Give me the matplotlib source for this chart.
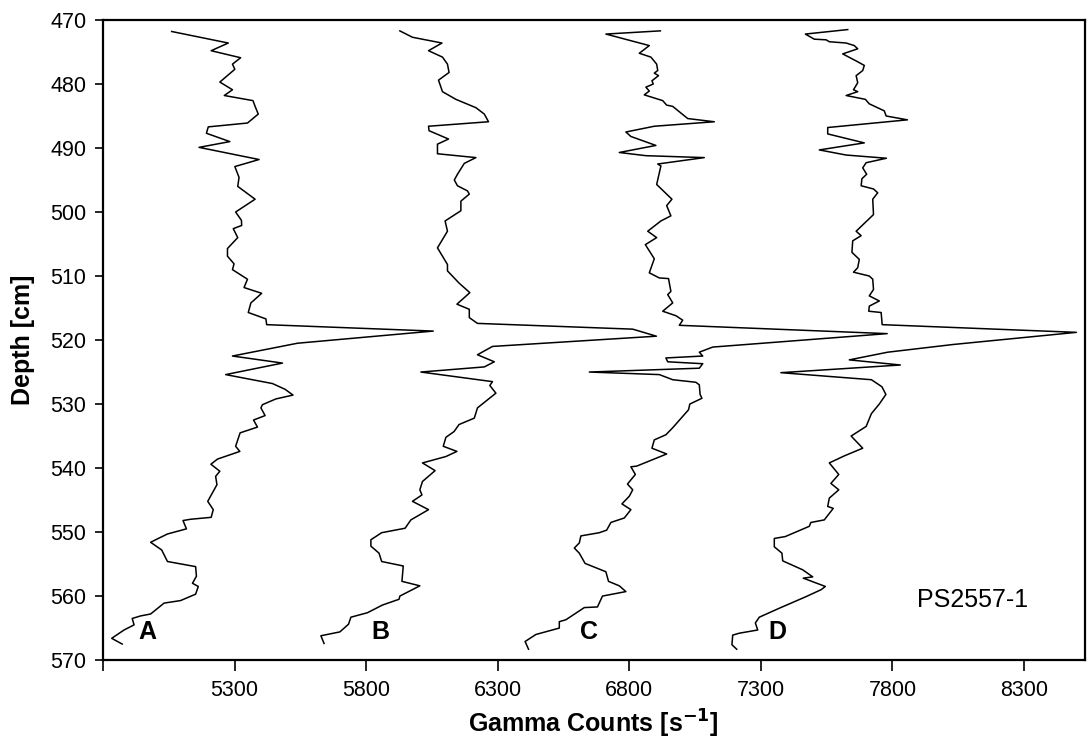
import matplotlib
matplotlib.use("Agg")
import matplotlib.pyplot as plt

plt.rcParams['font.family'] = ['Liberation Sans', 'DejaVu Sans']

# Gamma counts vs. depth for the four measurements A-D, core PS2557-1
depth_a = [471.8, 473.6, 474.8, 475.9, 476.9, 477.7, 479.7, 480.9, 481.8, 482.6, 483.5, 484.7, 486.1, 486.7,
           487.7, 489.0, 489.9, 491.8, 492.9, 494.6, 496.0, 498.0, 500.0, 501.3, 502.1, 502.6, 504.0, 505.7,
           506.9, 508.1, 509.0, 510.5, 511.8, 512.7, 514.2, 515.7, 516.7, 517.6, 518.6, 520.5, 522.5, 523.6,
           525.4, 526.8, 527.7, 528.6, 529.2, 530.1, 530.6, 531.8, 532.5, 533.6, 534.5, 536.6, 537.4, 538.6,
           539.4, 540.5, 541.3, 542.6, 545.2, 546.5, 547.7, 548.0, 548.2, 549.5, 550.3, 551.0, 551.6, 552.8,
           554.6, 555.4, 556.9, 558.0, 558.5, 559.7, 560.7, 561.1, 562.8, 563.1, 563.5, 564.5, 565.3, 566.6,
           567.5]
gamma_a = [5061, 5276, 5211, 5323, 5292, 5301, 5244, 5292, 5261, 5370, 5378, 5390, 5349, 5200,
           5193, 5282, 5165, 5393, 5301, 5317, 5312, 5378, 5304, 5326, 5327, 5295, 5312, 5273,
           5273, 5298, 5292, 5349, 5336, 5403, 5362, 5352, 5419, 5422, 6055, 5539, 5292, 5482,
           5266, 5444, 5492, 5522, 5457, 5406, 5400, 5416, 5372, 5387, 5321, 5304, 5320, 5235,
           5210, 5244, 5228, 5233, 5198, 5219, 5211, 5133, 5104, 5117, 5045, 5010, 4981, 5023,
           5045, 5152, 5155, 5140, 5162, 5152, 5095, 5032, 4981, 4943, 4911, 4918, 4880, 4833,
           4873]

depth_b = [471.7, 472.7, 473.6, 474.8, 475.8, 476.9, 478.2, 479.4, 481.2, 482.4, 483.7, 484.7, 485.9, 486.6,
           487.3, 488.6, 489.4, 490.9, 491.5, 492.4, 494.1, 495.0, 495.9, 496.7, 497.2, 498.3, 499.8, 501.4,
           503.0, 505.6, 508.2, 509.2, 511.1, 512.6, 514.4, 515.2, 516.5, 517.4, 518.3, 519.4, 521.0, 522.3,
           523.4, 524.2, 525.0, 526.5, 527.1, 528.3, 530.6, 532.2, 533.2, 534.3, 535.2, 536.6, 537.4, 538.2,
           539.2, 540.4, 542.1, 543.4, 544.2, 545.2, 546.5, 548.1, 549.4, 550.1, 551.2, 552.2, 553.3, 554.6,
           555.3, 557.7, 558.4, 560.0, 560.5, 561.4, 562.6, 563.3, 564.4, 565.6, 566.2, 567.4]
gamma_b = [5928, 5976, 6088, 6037, 6090, 6109, 6115, 6075, 6090, 6141, 6217, 6249, 6265, 6037,
           6039, 6113, 6071, 6071, 6217, 6173, 6147, 6135, 6147, 6185, 6192, 6160, 6160, 6100,
           6109, 6071, 6109, 6109, 6153, 6194, 6145, 6192, 6192, 6223, 6813, 6903, 6280, 6223,
           6287, 6249, 6008, 6280, 6270, 6293, 6223, 6211, 6153, 6134, 6103, 6093, 6145, 6103,
           6014, 6062, 6014, 6004, 6012, 5976, 6037, 5970, 5948, 5859, 5818, 5818, 5849, 5859,
           5941, 5936, 6004, 5928, 5925, 5862, 5805, 5742, 5733, 5700, 5628, 5640]

depth_c = [471.7, 472.2, 474.0, 475.2, 475.8, 476.9, 477.9, 478.3, 478.7, 479.5, 480.0, 480.5, 481.1, 481.7,
           482.6, 483.3, 483.5, 485.4, 485.9, 486.6, 487.5, 488.2, 489.6, 490.7, 491.2, 491.5, 492.5, 492.8,
           495.7, 498.0, 499.0, 500.6, 501.4, 503.0, 504.0, 505.1, 507.3, 509.5, 510.3, 510.4, 512.4, 512.9,
           514.2, 515.5, 516.2, 516.9, 517.7, 519.0, 521.1, 521.9, 522.5, 522.8, 523.4, 523.7, 524.4, 525.0,
           525.4, 526.2, 526.6, 527.0, 528.5, 529.1, 530.0, 530.9, 533.7, 534.8, 535.6, 536.9, 537.8, 539.7,
           539.8, 541.0, 542.5, 543.4, 544.4, 545.6, 546.5, 547.8, 548.5, 549.7, 550.1, 550.6, 551.7, 552.5,
           553.3, 554.9, 556.2, 557.7, 558.4, 559.3, 560.0, 561.7, 561.8, 563.7, 564.0, 565.0, 566.0, 567.1,
           568.3]
gamma_c = [6918, 6711, 6876, 6838, 6882, 6904, 6908, 6895, 6911, 6886, 6891, 6863, 6876, 6857,
           6927, 6942, 6965, 7022, 7123, 6895, 6787, 6806, 6901, 6762, 6863, 7085, 6908, 6920,
           6904, 6962, 6942, 6958, 6920, 6870, 6904, 6861, 6895, 6876, 6914, 6949, 6958, 6946,
           6965, 6927, 6977, 7003, 6990, 7780, 7117, 7066, 7079, 6939, 6946, 7079, 7066, 6648,
           6914, 6965, 7053, 7066, 7069, 7076, 7030, 7025, 6965, 6939, 6895, 6886, 6942, 6828,
           6806, 6823, 6793, 6813, 6800, 6772, 6806, 6781, 6730, 6714, 6686, 6616, 6610, 6591,
           6610, 6632, 6711, 6721, 6762, 6787, 6698, 6679, 6629, 6559, 6534, 6534, 6445, 6404,
           6417]

depth_d = [471.5, 472.2, 473.0, 473.1, 473.4, 473.6, 474.0, 474.5, 475.3, 476.4, 477.1, 477.9, 478.7, 479.8,
           480.9, 481.2, 481.8, 482.4, 483.1, 484.2, 485.0, 485.6, 486.8, 487.8, 489.2, 490.3, 491.1, 491.6,
           492.3, 493.1, 494.1, 494.8, 495.9, 496.4, 497.0, 498.0, 500.4, 503.0, 503.7, 504.5, 506.3, 507.4,
           508.7, 509.4, 510.0, 510.5, 512.1, 513.1, 513.9, 514.7, 515.5, 515.7, 517.6, 518.8, 520.7, 521.9,
           523.1, 523.9, 525.1, 526.2, 527.3, 528.5, 530.0, 531.5, 533.5, 535.0, 536.9, 538.1, 539.2, 541.0,
           542.4, 543.4, 544.7, 546.0, 546.3, 548.1, 548.5, 549.1, 550.7, 551.0, 552.3, 553.3, 554.5, 555.9,
           557.0, 557.2, 558.5, 559.0, 560.1, 561.9, 563.3, 564.2, 565.3, 565.8, 566.1, 567.6, 568.3]
gamma_d = [7630, 7469, 7503, 7548, 7560, 7624, 7655, 7668, 7611, 7662, 7693, 7687, 7662, 7668,
           7652, 7668, 7624, 7697, 7712, 7769, 7776, 7857, 7554, 7554, 7693, 7522, 7624, 7777,
           7700, 7687, 7702, 7684, 7681, 7728, 7744, 7725, 7728, 7662, 7681, 7649, 7646, 7674,
           7668, 7652, 7712, 7725, 7728, 7712, 7750, 7712, 7710, 7757, 7761, 8499, 8030, 7782,
           7636, 7830, 7376, 7720, 7760, 7775, 7750, 7720, 7700, 7643, 7687, 7617, 7560, 7596,
           7566, 7596, 7560, 7554, 7575, 7541, 7490, 7484, 7393, 7351, 7351, 7380, 7383, 7459,
           7497, 7461, 7545, 7529, 7471, 7370, 7294, 7279, 7288, 7218, 7193, 7190, 7208]

curve_labels = ['A', 'B', 'C', 'D']
label_x = [4970, 5855, 6648, 7362]
label_depth = 565.6
core_name = 'PS2557-1'

x_ticks = [4800, 5300, 5800, 6300, 6800, 7300, 7800, 8300]
y_ticks = list(range(470, 571, 10))

fig = plt.figure(figsize=(10.9, 7.4), dpi=100)
ax = fig.add_axes([0.0945, 0.108, 0.9005, 0.865])

for d, g in [(depth_a, gamma_a), (depth_b, gamma_b), (depth_c, gamma_c), (depth_d, gamma_d)]:
    ax.plot(g, d, color='black', lw=1.1)

for lab, lx in zip(curve_labels, label_x):
    ax.text(lx, label_depth, lab, fontsize=18, fontweight='bold', ha='center', va='center')

ax.text(7895, 560.6, core_name, fontsize=18, ha='left', va='center')

ax.set_xlim(4800, 8530)
ax.set_ylim(570, 470)
ax.set_xticks(x_ticks)
ax.set_xticklabels([''] + [str(t) for t in x_ticks[1:]])
ax.set_yticks(y_ticks)
ax.tick_params(axis='x', direction='out', length=8, width=1.2, labelsize=15.5, pad=6)
ax.tick_params(axis='y', direction='out', length=6, width=1.2, labelsize=15.5, pad=6)
for s in ax.spines.values():
    s.set_linewidth(1.6)

ax.set_xlabel('Gamma Counts [s$^{\\mathbf{-1}}$]', fontsize=18, fontweight='bold', va='center')
ax.xaxis.set_label_coords(0.5, -0.1)
ax.set_ylabel('Depth [cm]', fontsize=18, fontweight='bold', va='center')
ax.yaxis.set_label_coords(-0.082, 0.5)

fig.savefig('out.png', dpi=100)
